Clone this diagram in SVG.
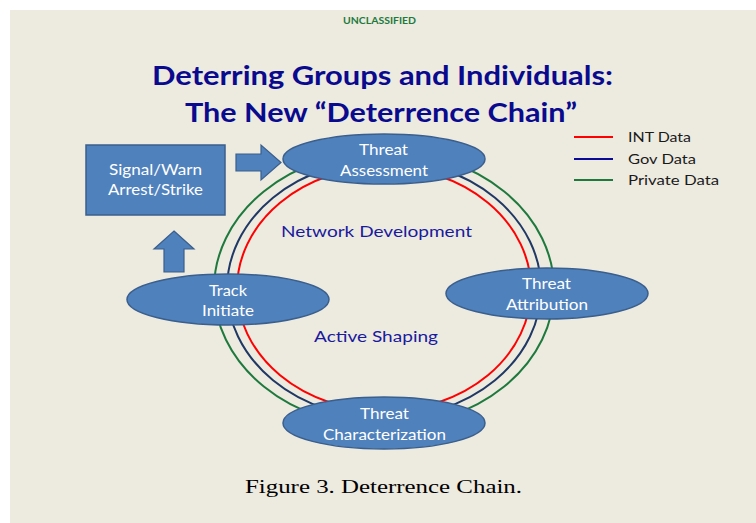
<svg xmlns="http://www.w3.org/2000/svg" width="756" height="523" viewBox="0 0 756 523">
<style>
.node{fill:#4F81BD;stroke:#3A5F8C;stroke-width:1.5}
.nt{font-family:Lato,"Open Sans","Liberation Sans",sans-serif;font-size:16px;fill:#FFFFFF}
.ring{fill:none;stroke-width:2}
.blk{fill:#4F81BD;stroke:#3A5F8C;stroke-width:1.2}
.lbl{font-family:Lato,"Open Sans","Liberation Sans",sans-serif;font-size:16px;fill:#1A1A9E}
.leg{font-family:Lato,"Open Sans","Liberation Sans",sans-serif;font-size:14px;fill:#1A1A1A}
.title{font-family:Lato,"Open Sans","Liberation Sans",sans-serif;font-weight:bold;font-size:26px;fill:#0A0A8F}
</style>
<rect x="0" y="0" width="756" height="523" fill="#FFFFFF"/>
<rect x="10" y="10" width="746" height="513" fill="#EDEAE0"/>
<text x="343" y="24" textLength="73" lengthAdjust="spacingAndGlyphs" style="font-family:Lato,'Open Sans','Liberation Sans',sans-serif;font-weight:bold;font-size:9.5px;fill:#1E7A3C">UNCLASSIFIED</text>
<text class="title" x="152" y="85" textLength="461" lengthAdjust="spacingAndGlyphs">Deterring Groups and Individuals:</text>
<text class="title" x="185" y="122" textLength="392" lengthAdjust="spacingAndGlyphs">The New “Deterrence Chain”</text>
<g id="legend">
<line x1="574" y1="137" x2="613" y2="137" stroke="#FF0000" stroke-width="2"/>
<line x1="574" y1="159" x2="613" y2="159" stroke="#0A0A96" stroke-width="2"/>
<line x1="574" y1="180" x2="613" y2="180" stroke="#1E7A3C" stroke-width="2"/>
<text class="leg" x="628" y="142" textLength="63" lengthAdjust="spacingAndGlyphs">INT Data</text>
<text class="leg" x="628" y="164" textLength="68" lengthAdjust="spacingAndGlyphs">Gov Data</text>
<text class="leg" x="628" y="185" textLength="91" lengthAdjust="spacingAndGlyphs">Private Data</text>
</g>
<g id="connectors">
<ellipse class="ring" cx="384" cy="289" rx="170" ry="138" stroke="#1E7A3C"/>
<ellipse class="ring" cx="384" cy="289" rx="157" ry="129" stroke="#1F3864"/>
<ellipse class="ring" cx="384" cy="289" rx="147" ry="122" stroke="#FF0000"/>
<polygon class="blk" points="236,154 261,154 261,145 281,162.5 261,180 261,171 236,171"/>
<polygon class="blk" points="174,231 194,249 184,249 184,272 164,272 164,249 154,249"/>
</g>
<text class="lbl" x="281" y="237" textLength="191" lengthAdjust="spacingAndGlyphs">Network Development</text>
<text class="lbl" x="314" y="342" textLength="124" lengthAdjust="spacingAndGlyphs">Active Shaping</text>
<g id="signal-warn">
<rect class="node" x="86" y="145" width="139" height="70"/>
<text class="nt" x="109" y="175" textLength="93" lengthAdjust="spacingAndGlyphs">Signal/Warn</text>
<text class="nt" x="108" y="195" textLength="95" lengthAdjust="spacingAndGlyphs">Arrest/Strike</text>
</g>
<g id="threat-assessment">
<ellipse class="node" cx="384" cy="159" rx="101" ry="25"/>
<text class="nt" x="359" y="155" textLength="49" lengthAdjust="spacingAndGlyphs">Threat</text>
<text class="nt" x="340" y="176" textLength="88" lengthAdjust="spacingAndGlyphs">Assessment</text>
</g>
<g id="track-initiate">
<ellipse class="node" cx="228" cy="299.5" rx="101" ry="25.5"/>
<text class="nt" x="209" y="296" textLength="38" lengthAdjust="spacingAndGlyphs">Track</text>
<text class="nt" x="202" y="316" textLength="52" lengthAdjust="spacingAndGlyphs">Initiate</text>
</g>
<g id="threat-attribution">
<ellipse class="node" cx="547" cy="293.5" rx="101" ry="25.5"/>
<text class="nt" x="522" y="289" textLength="49" lengthAdjust="spacingAndGlyphs">Threat</text>
<text class="nt" x="506" y="310" textLength="82" lengthAdjust="spacingAndGlyphs">Attribution</text>
</g>
<g id="threat-characterization">
<ellipse class="node" cx="384" cy="423" rx="101" ry="26"/>
<text class="nt" x="360" y="419" textLength="49" lengthAdjust="spacingAndGlyphs">Threat</text>
<text class="nt" x="323" y="440" textLength="123" lengthAdjust="spacingAndGlyphs">Characterization</text>
</g>
<text x="245" y="493" textLength="277" lengthAdjust="spacingAndGlyphs" style="font-family:'Liberation Serif','Times New Roman',serif;font-size:19px;fill:#000000">Figure 3. Deterrence Chain.</text>
</svg>
